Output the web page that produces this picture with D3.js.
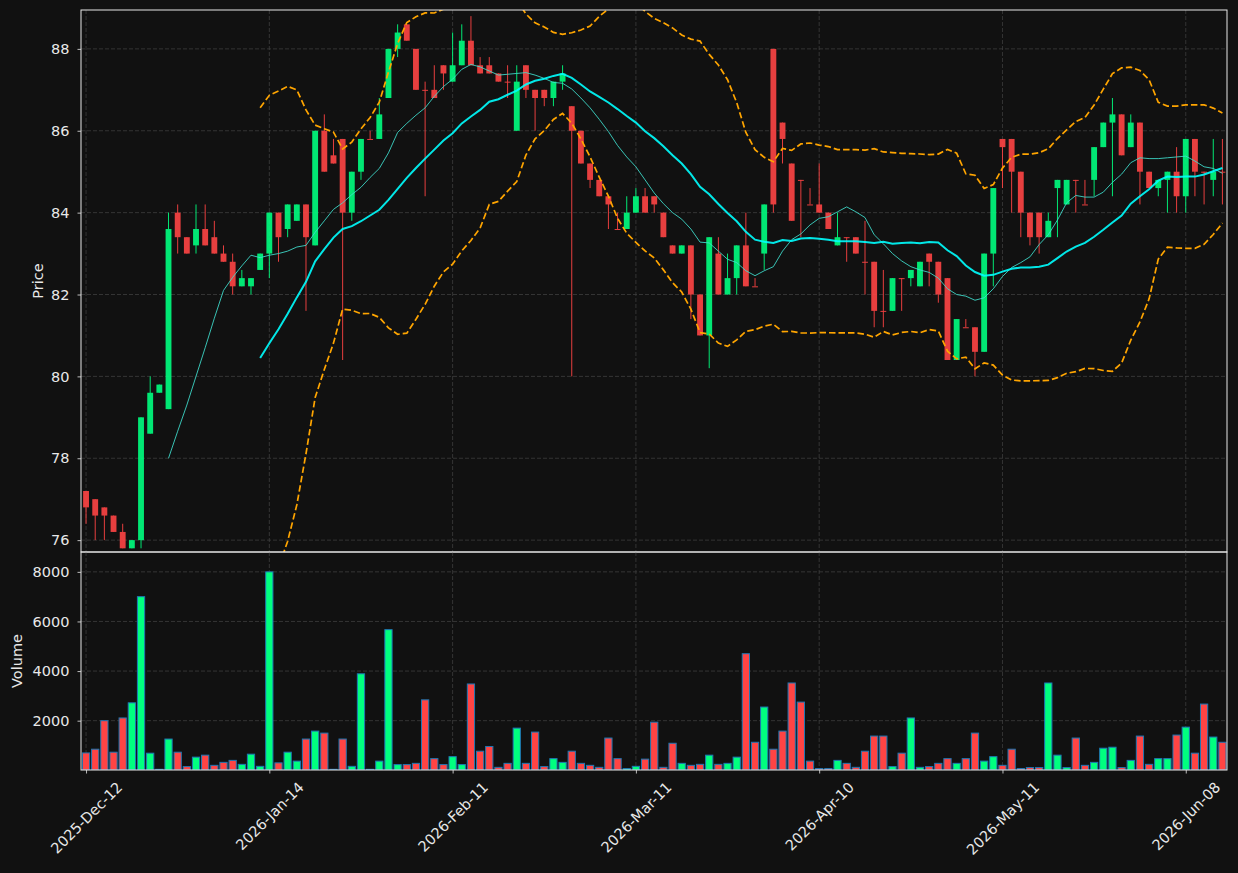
<!DOCTYPE html>
<html>
<head>
<meta charset="utf-8">
<script src="https://cdn.jsdelivr.net/npm/d3@7"></script>
<style>
	html, body { margin: 0; padding: 0; background: #111111; }
	svg text { font-family: "DejaVu Sans", sans-serif; fill: #e8e8e8; }
</style>
</head>
<body>
<div id="graphic"></div>
<script>
// OHLCV, one entry per session (index based x axis)
const opens = [
	77.2, 77.0, 76.8, 76.6, 76.2, 75.8, 76.0, 78.6, 79.6, 79.2,
	84.0, 83.4, 83.2, 83.6, 83.4, 83.0, 82.8, 82.2, 82.2, 82.6,
	83.0, 84.0, 83.6, 83.8, 84.2, 83.2, 86.0, 85.4, 85.8, 84.0,
	85.0, 85.8, 85.8, 86.8, 88.0, 88.6, 88.0, 87.0, 87.0, 87.6,
	87.2, 87.6, 88.2, 87.6, 87.6, 87.4, 87.2, 86.0, 87.6, 87.0,
	87.0, 86.8, 87.2, 86.6, 86.0, 85.2, 84.8, 84.4, 83.6, 83.6,
	84.0, 84.4, 84.4, 84.0, 83.2, 83.0, 83.2, 82.0, 81.0, 83.0,
	82.0, 82.4, 83.2, 82.2, 83.0, 88.0, 86.2, 85.2, 84.8, 84.2,
	84.2, 84.0, 83.2, 83.4, 83.4, 82.8, 82.8, 81.6, 81.6, 82.4,
	82.4, 82.2, 83.0, 82.8, 82.4, 80.4, 81.2, 81.2, 80.6, 83.0,
	85.8, 85.8, 85.0, 84.0, 84.0, 83.4, 84.6, 84.2, 84.8, 84.2,
	84.8, 85.6, 86.2, 86.4, 85.6, 86.2, 85.0, 84.6, 84.8, 85.0,
	84.4, 85.8, 85.0, 84.8, 85.0
];
const highs = [
	77.2, 77.0, 76.8, 76.6, 76.4, 76.0, 79.0, 80.0, 79.8, 84.0,
	84.2, 83.4, 84.2, 84.2, 83.8, 83.2, 83.0, 82.6, 82.4, 83.0,
	84.0, 84.0, 84.2, 84.2, 84.2, 86.0, 86.4, 85.8, 85.8, 85.0,
	85.8, 86.0, 86.8, 88.0, 88.6, 88.6, 88.0, 87.2, 87.6, 87.6,
	88.4, 88.6, 88.8, 87.8, 87.8, 87.4, 87.6, 87.6, 87.6, 87.0,
	87.0, 87.2, 87.6, 86.6, 86.0, 85.2, 84.8, 84.4, 84.0, 84.4,
	84.6, 84.6, 84.4, 84.0, 83.2, 83.2, 83.2, 82.0, 83.4, 83.4,
	83.0, 83.2, 84.0, 82.4, 84.2, 88.0, 86.2, 85.2, 84.8, 84.6,
	85.2, 84.0, 84.0, 83.4, 83.4, 83.8, 82.8, 82.6, 82.4, 82.4,
	82.6, 82.8, 83.0, 82.8, 82.4, 81.4, 81.4, 81.2, 83.0, 84.6,
	85.8, 85.8, 85.0, 84.0, 84.0, 84.0, 84.8, 84.8, 84.8, 84.8,
	85.6, 86.2, 86.8, 86.4, 86.4, 86.2, 85.0, 84.8, 85.0, 85.6,
	85.8, 85.8, 85.0, 85.8, 85.8
];
const lows = [
	76.4, 76.0, 76.0, 76.2, 75.8, 75.8, 75.8, 78.6, 79.6, 79.2,
	83.0, 83.0, 83.0, 83.2, 83.0, 82.8, 82.0, 82.2, 82.0, 82.6,
	82.4, 82.8, 83.4, 83.8, 81.6, 83.2, 85.0, 85.2, 80.4, 83.8,
	84.8, 85.8, 85.8, 86.8, 87.8, 88.2, 87.0, 84.4, 86.8, 87.0,
	87.2, 87.6, 87.6, 87.4, 87.4, 87.2, 86.8, 86.0, 86.8, 86.0,
	86.6, 86.6, 87.0, 80.0, 85.2, 84.6, 84.4, 83.6, 83.6, 83.6,
	84.0, 84.0, 84.0, 83.4, 83.0, 83.0, 81.4, 81.0, 80.2, 82.0,
	82.0, 82.0, 82.2, 82.2, 82.6, 84.0, 85.2, 83.8, 83.4, 84.2,
	84.0, 83.6, 83.2, 82.8, 83.0, 82.0, 81.2, 81.2, 81.6, 81.6,
	82.2, 82.2, 82.2, 81.8, 80.4, 80.4, 81.2, 80.0, 80.6, 82.2,
	84.6, 84.0, 83.4, 83.2, 83.0, 83.4, 83.4, 84.2, 84.0, 84.2,
	84.4, 85.6, 84.4, 85.4, 85.6, 84.2, 84.6, 84.4, 84.0, 84.0,
	84.0, 84.4, 84.2, 84.4, 84.2
];
const closes = [
	76.8, 76.6, 76.6, 76.2, 75.8, 76.0, 79.0, 79.6, 79.8, 83.6,
	83.4, 83.0, 83.6, 83.2, 83.0, 82.8, 82.2, 82.4, 82.4, 83.0,
	84.0, 83.4, 84.2, 84.2, 83.4, 86.0, 85.0, 85.2, 84.0, 85.0,
	85.8, 85.8, 86.4, 88.0, 88.4, 88.2, 87.0, 87.0, 86.8, 87.4,
	87.6, 88.2, 87.6, 87.4, 87.4, 87.2, 87.2, 87.2, 87.0, 86.8,
	86.8, 87.2, 87.4, 86.0, 85.2, 84.8, 84.4, 84.2, 83.6, 84.0,
	84.4, 84.0, 84.2, 83.4, 83.0, 83.2, 82.0, 81.0, 83.4, 82.0,
	82.4, 83.2, 82.2, 82.2, 84.2, 84.2, 85.8, 83.8, 84.8, 84.2,
	84.0, 83.6, 83.4, 83.4, 83.0, 82.8, 81.6, 81.6, 82.4, 82.4,
	82.6, 82.8, 82.8, 82.0, 80.4, 81.4, 81.2, 80.6, 83.0, 84.6,
	85.6, 85.0, 84.0, 83.4, 83.4, 83.8, 84.8, 84.8, 84.8, 84.2,
	85.6, 86.2, 86.4, 85.4, 86.2, 85.0, 84.6, 84.8, 85.0, 84.4,
	85.8, 85.0, 85.0, 85.0, 85.0
];
const volumes = [
	700, 850, 2000, 730, 2110, 2720, 7000, 690, 40, 1260,
	730, 150, 530, 610, 200, 320, 400, 240, 650, 160,
	8000, 300, 730, 370, 1260, 1580, 1500, 40, 1260, 160,
	3890, 40, 370, 5670, 230, 230, 280, 2840, 470, 230,
	550, 230, 3480, 770, 960, 120, 280, 1700, 280, 1540,
	150, 470, 320, 770, 280, 200, 120, 1300, 470, 70,
	160, 450, 1940, 120, 1090, 280, 200, 240, 610, 240,
	280, 530, 4700, 1130, 2550, 850, 1580, 3520, 2750, 370,
	70, 70, 400, 280, 120, 770, 1380, 1380, 150, 690,
	2110, 120, 150, 280, 470, 280, 470, 1500, 370, 550,
	200, 850, 70, 110, 110, 3520, 610, 110, 1300, 200,
	320, 890, 930, 110, 400, 1380, 240, 470, 470, 1420,
	1740, 690, 2670, 1340, 1130
];

// x tick positions (session index) and their labels
const tickIndex = [0, 20, 40, 60, 80, 100, 120];
const tickLabels = ['2025-Dec-12', '2026-Jan-14', '2026-Feb-11', '2026-Mar-11', '2026-Apr-10', '2026-May-11', '2026-Jun-08'];
const priceTicks = [76, 78, 80, 82, 84, 86, 88];
const volumeTicks = [2000, 4000, 6000, 8000];

const mavShort = 10;
const mavLong = 20;

const upColour = '#00ff7f';
const downColour = '#ff4444';

function drawGraphic() {
	const width = 1238, fullHeight = 873;
	const margin = { top: 10, right: 11, bottom: 103, left: 81 };
	const chart_width = width - margin.left - margin.right;
	const priceHeight = 542;
	const volHeight = fullHeight - margin.top - margin.bottom - priceHeight;
	const fontSize = 14.5;

	const n = closes.length;
	const data = d3.range(n).map(i => ({
		i: i, o: opens[i], h: highs[i], l: lows[i], c: closes[i], v: volumes[i],
		up: closes[i] > opens[i]
	}));

	// moving averages and 20 period bollinger bands from the closes
	function sma(len) {
		return closes.map((c, i) => i < len - 1 ? null : d3.mean(closes.slice(i - len + 1, i + 1)));
	}
	const maShort = sma(mavShort);
	const maLong = sma(mavLong);
	const bandUpper = maLong.map((m, i) => m == null ? null : m + 2 * d3.deviation(closes.slice(i - mavLong + 1, i + 1)));
	const bandLower = maLong.map((m, i) => m == null ? null : m - 2 * d3.deviation(closes.slice(i - mavLong + 1, i + 1)));

	const x = d3.scaleLinear().domain([-0.55, n - 0.5]).range([0, chart_width]);
	const step = x(1) - x(0);

	const y = d3.scaleLinear().domain([75.71, 88.95]).range([priceHeight, 0]);
	const yv = d3.scaleLinear()
		.domain([0.3 * d3.min(volumes), 1.1 * d3.max(volumes)])
		.range([volHeight, 0]);

	const svg = d3.select('#graphic').append('svg')
		.attr('width', width).attr('height', fullHeight)
		.style('display', 'block')
		.style('background', '#111111');

	const defs = svg.append('defs');
	defs.append('clipPath').attr('id', 'clipPrice')
		.append('rect').attr('width', chart_width).attr('height', priceHeight);
	defs.append('clipPath').attr('id', 'clipVol')
		.append('rect').attr('width', chart_width).attr('height', volHeight);

	const main = svg.append('g').attr('transform', `translate(${margin.left},${margin.top})`);
	const vol = svg.append('g').attr('transform', `translate(${margin.left},${margin.top + priceHeight})`);

	const gridStyle = sel => sel
		.attr('stroke', '#3d3d3d')
		.attr('stroke-width', 0.8)
		.attr('stroke-dasharray', '4 2');

	//grid lines for both panels
	[[main, priceHeight, priceTicks, y], [vol, volHeight, volumeTicks, yv]].forEach(([g, h, ticks, scale]) => {
		g.append('g').selectAll('line.vgrid').data(tickIndex).join('line')
			.attr('x1', d => x(d)).attr('x2', d => x(d))
			.attr('y1', 0).attr('y2', h)
			.call(gridStyle);
		g.append('g').selectAll('line.hgrid').data(ticks).join('line')
			.attr('x1', 0).attr('x2', chart_width)
			.attr('y1', d => scale(d)).attr('y2', d => scale(d))
			.call(gridStyle);
	});

	// candles
	const candles = main.append('g').attr('clip-path', 'url(#clipPrice)')
		.selectAll('g.candle').data(data).join('g')
		.attr('class', 'candle')
		.attr('opacity', 0.9);

	candles.append('line')
		.attr('x1', d => x(d.i)).attr('x2', d => x(d.i))
		.attr('y1', d => y(d.h)).attr('y2', d => y(d.l))
		.attr('stroke', d => d.up ? upColour : downColour)
		.attr('stroke-width', 1);

	const bodyW = step * 0.64;
	candles.append('rect')
		.attr('x', d => x(d.i) - bodyW / 2)
		.attr('width', bodyW)
		.attr('y', d => y(Math.max(d.o, d.c)))
		.attr('height', d => Math.max(1, y(Math.min(d.o, d.c)) - y(Math.max(d.o, d.c))))
		.attr('fill', d => d.up ? upColour : downColour);

	// moving averages + bands
	const line = d3.line()
		.defined(d => d != null)
		.x((d, i) => x(i))
		.y(d => y(d));

	const overlays = main.append('g').attr('clip-path', 'url(#clipPrice)');
	overlays.append('path').datum(maShort)
		.attr('d', line).attr('fill', 'none')
		.attr('stroke', '#40e0d0').attr('stroke-opacity', 0.85).attr('stroke-width', 1);
	overlays.append('path').datum(maLong)
		.attr('d', line).attr('fill', 'none')
		.attr('stroke', '#00ffff').attr('stroke-opacity', 0.9).attr('stroke-width', 2);
	[bandUpper, bandLower].forEach(b => {
		overlays.append('path').datum(b)
			.attr('d', line).attr('fill', 'none')
			.attr('stroke', '#ffa500').attr('stroke-width', 1.7)
			.attr('stroke-dasharray', '6.5 3');
	});

	// volume bars
	const volW = step * 0.9 - 1;
	vol.append('g').attr('clip-path', 'url(#clipVol)')
		.selectAll('rect').data(data).join('rect')
		.attr('x', d => x(d.i) - volW / 2)
		.attr('width', volW)
		.attr('y', d => yv(d.v))
		.attr('height', d => volHeight - yv(d.v))
		.attr('fill', d => d.up ? upColour : downColour)
		.attr('stroke', '#1f77b4')
		.attr('stroke-width', 1);

	//axes
	const styleAxis = g => {
		g.attr('font-size', null).attr('font-family', null);
		g.select('.domain').remove();
		g.selectAll('.tick line').attr('stroke', '#e8e8e8').attr('stroke-width', 0.8);
		g.selectAll('.tick text').attr('font-size', fontSize).attr('fill', '#e8e8e8');
	};

	main.append('g')
		.call(d3.axisLeft(y).tickValues(priceTicks).tickSize(3.5).tickPadding(8).tickFormat(d3.format('d')))
		.call(styleAxis);

	vol.append('g')
		.call(d3.axisLeft(yv).tickValues(volumeTicks).tickSize(3.5).tickPadding(8).tickFormat(d3.format('d')))
		.call(styleAxis);

	const xAxisG = vol.append('g')
		.attr('transform', `translate(0,${volHeight})`)
		.call(d3.axisBottom(x).tickValues(tickIndex).tickSize(3.5).tickFormat(''))
		.call(styleAxis);

	// rotated date labels, centred under each tick
	xAxisG.selectAll('g.tick').each(function (d, k) {
		const t = d3.select(this).append('text')
			.attr('text-anchor', 'middle')
			.attr('dominant-baseline', 'central')
			.attr('font-size', fontSize)
			.attr('fill', '#e8e8e8')
			.text(tickLabels[k]);
		const w = t.node().getComputedTextLength();
		const side = (w + fontSize * 1.1) / Math.SQRT2;
		t.attr('transform', `translate(0,${9 + side / 2}) rotate(-45)`);
	});

	// spines
	[[main, priceHeight], [vol, volHeight]].forEach(([g, h]) => {
		g.append('rect')
			.attr('width', chart_width).attr('height', h)
			.attr('fill', 'none')
			.attr('stroke', '#e8e8e8')
			.attr('stroke-width', 1);
	});

	// axis titles
	svg.append('text')
		.attr('transform', `translate(38,${margin.top + priceHeight / 2}) rotate(-90)`)
		.attr('text-anchor', 'middle')
		.attr('dominant-baseline', 'central')
		.attr('font-size', fontSize)
		.text('Price');

	svg.append('text')
		.attr('transform', `translate(17,${margin.top + priceHeight + volHeight / 2}) rotate(-90)`)
		.attr('text-anchor', 'middle')
		.attr('dominant-baseline', 'central')
		.attr('font-size', fontSize)
		.text('Volume');
}

drawGraphic();
</script>
</body>
</html>
